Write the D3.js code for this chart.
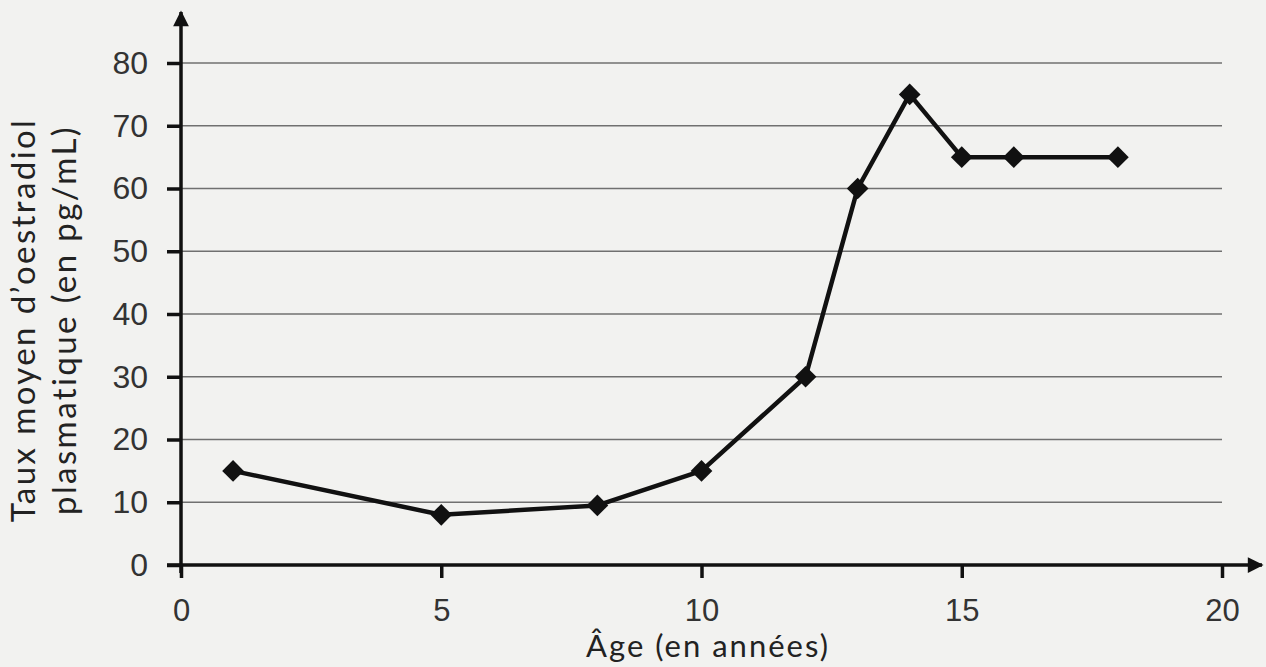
<!DOCTYPE html>
<html lang="fr">
<head>
<meta charset="utf-8">
<script src="https://d3js.org/d3.v7.min.js"></script>
<style>
  body { margin: 0; background: #f2f2f0; }
  svg { display: block; font-family: Lato, "Open Sans", sans-serif; }
</style>
</head>
<body>
<script>
// data
var ages = [1, 5, 8, 10, 12, 13, 14, 15, 16, 18];
var taux = [15, 8, 9.5, 15, 30, 60, 75, 65, 65, 65];
var xTicks = [0, 5, 10, 15, 20];
var yTicks = [0, 10, 20, 30, 40, 50, 60, 70, 80];

var width = 1266, height = 667;
var svg = d3.select("body").append("svg")
  .attr("width", width)
  .attr("height", height);

var x = d3.scaleLinear().domain([0, 20]).range([181, 1222]);
var y = d3.scaleLinear().domain([0, 80]).range([565, 63]);

// horizontal grid
svg.append("g")
  .selectAll("line")
  .data(yTicks.filter(function (d) { return d > 0; }))
  .join("line")
  .attr("x1", x(0)).attr("x2", x(20))
  .attr("y1", function (d) { return y(d); })
  .attr("y2", function (d) { return y(d); })
  .attr("stroke", "#707070")
  .attr("stroke-width", 1.3);

// y axis
var yAxis = d3.axisLeft(y).tickValues(yTicks).tickSize(14).tickPadding(19);
var gy = svg.append("g").attr("transform", "translate(" + x(0) + ",0)").call(yAxis);
gy.select(".domain").remove();
gy.selectAll(".tick line").attr("stroke", "#111").attr("stroke-width", 3.5);
gy.selectAll(".tick text").attr("font-size", 32).attr("fill", "#333");

// x axis
var xAxis = d3.axisBottom(x).tickValues(xTicks).tickSize(13).tickPadding(21);
var gx = svg.append("g").attr("transform", "translate(0," + y(0) + ")").call(xAxis);
gx.select(".domain").remove();
gx.selectAll(".tick line").attr("stroke", "#111").attr("stroke-width", 3.5);
gx.selectAll(".tick text").attr("font-size", 31).attr("fill", "#333");

// axis lines with arrows
svg.append("defs").append("marker")
  .attr("id", "arrow")
  .attr("viewBox", "0 0 10 10")
  .attr("refX", 9).attr("refY", 5)
  .attr("markerWidth", 5).attr("markerHeight", 4.5)
  .attr("orient", "auto")
  .append("path").attr("d", "M0,0L10,5L0,10z").attr("fill", "#111");

svg.append("line")
  .attr("x1", x(0)).attr("y1", y(0) + 8)
  .attr("x2", x(0)).attr("y2", 12)
  .attr("stroke", "#111").attr("stroke-width", 3.5)
  .attr("marker-end", "url(#arrow)");
svg.append("line")
  .attr("x1", x(0) - 14).attr("y1", y(0))
  .attr("x2", 1262).attr("y2", y(0))
  .attr("stroke", "#111").attr("stroke-width", 3.5)
  .attr("marker-end", "url(#arrow)");

// series line
var pts = ages.map(function (a, i) { return [a, taux[i]]; });
var line = d3.line()
  .x(function (d) { return x(d[0]); })
  .y(function (d) { return y(d[1]); });
svg.append("path")
  .datum(pts)
  .attr("d", line)
  .attr("fill", "none")
  .attr("stroke", "#111")
  .attr("stroke-width", 4.5)
  .attr("stroke-linejoin", "round");

// diamond markers
svg.append("g")
  .selectAll("path")
  .data(pts)
  .join("path")
  .attr("d", d3.symbol().type(d3.symbolDiamond2).size(300))
  .attr("transform", function (d) { return "translate(" + x(d[0]) + "," + y(d[1]) + ")"; })
  .attr("fill", "#111");

// axis titles
svg.append("text")
  .attr("x", 708).attr("y", 657)
  .attr("text-anchor", "middle")
  .attr("font-size", 31).attr("letter-spacing", 2).attr("fill", "#222")
  .text("Âge (en années)");

var yt = svg.append("text")
  .attr("transform", "translate(0,320) rotate(-90)")
  .attr("text-anchor", "middle")
  .attr("font-size", 33).attr("letter-spacing", 2.4).attr("fill", "#222");
yt.append("tspan").attr("x", 0).attr("y", 35).text("Taux moyen d’oestradiol");
yt.append("tspan").attr("x", 0).attr("y", 76).text("plasmatique (en pg/mL)");
</script>
</body>
</html>
